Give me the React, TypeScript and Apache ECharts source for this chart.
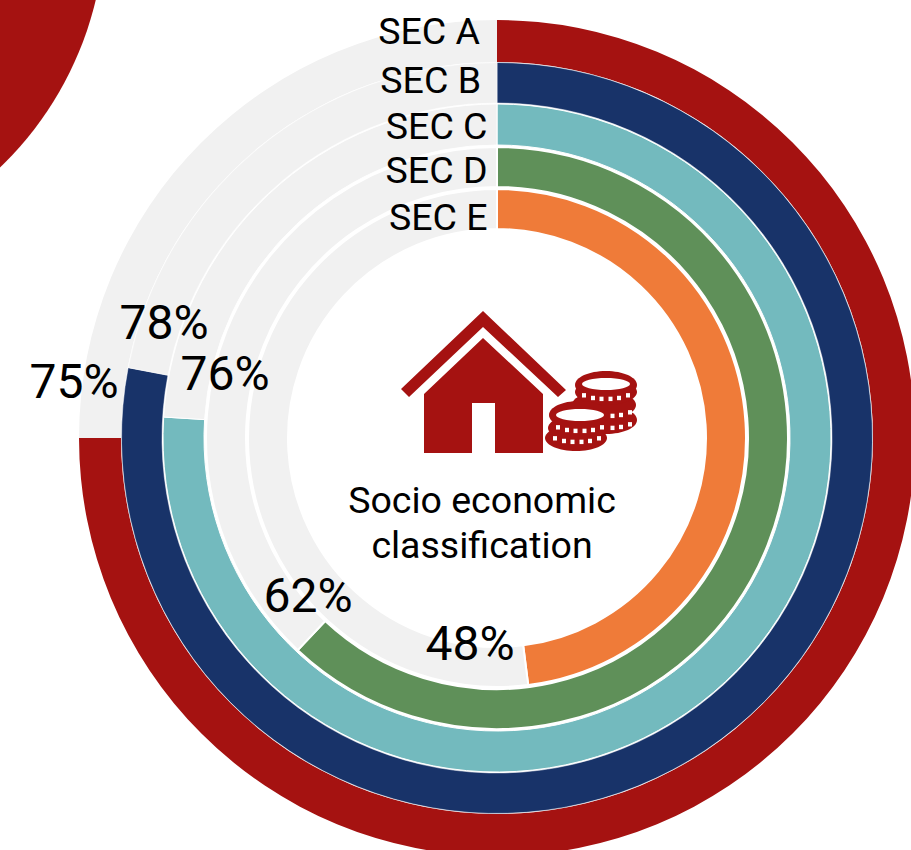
import React, { useEffect, useRef } from "react";
import * as echarts from "echarts";

const categories = ["SEC A", "SEC B", "SEC C", "SEC D", "SEC E"];
const shares = [75, 78, 76, 62, 48];
const colors = ["#A51211", "#183369", "#73BABE", "#5F9059", "#EF7B39"];
const centerLines = ["Socio economic", "classification"];

const CX = 497;
const CY = 438;
const radii = [[376, 418], [335, 375.5], [293, 334], [251, 291], [209, 249]];
const borders = [0, 0.5, 1, 2, 2];
const catPos = [[480, 31], [481, 80], [487.5, 126], [487.5, 170], [487.5, 217]];
const pctPos = [[74, 381], [164, 322], [225, 373], [308, 595], [470, 643]];

const RED = "#A51211";
const txt = (text: string, x: number, y: number, size: number, align: string) => ({
  type: "text", x, y, z: 20,
  style: { text, fontFamily: "Roboto", fontSize: size, fill: "#000", align, verticalAlign: "middle" },
});
const poly = (points: number[][], fill = RED) => ({ type: "polygon", z: 20, shape: { points }, style: { fill } });
const ell = (cx: number, cy: number, rx: number, ry: number, fill: string, z = 20) => ({
  type: "ellipse", z, shape: { cx, cy, rx, ry }, style: { fill },
});
// A row of small white notches following the lower rim of a coin.
const notches = (cx: number, cy: number, rx: number, ry: number, z: number) => {
  const out: any[] = [];
  for (const dx of [-22, -13, -4.5, 4.5, 13, 22]) {
    const y = cy + ry * Math.sqrt(1 - (dx / rx) ** 2);
    out.push({
      type: "rect", z,
      shape: { x: cx + dx - 2, y: y - 2.2, width: 4, height: 4.4 },
      style: { fill: "#fff" },
    });
  }
  return out;
};

const icon = [
  poly([[483, 311], [566, 390], [558, 397], [483, 327], [409, 397], [401, 389]]),
  poly([[483, 338], [543, 394], [543, 453], [495, 453], [495, 403], [472, 403], [472, 453], [424, 453], [424, 394]]),
  // rear stack
  ell(606, 420, 31, 14, RED, 21),
  ell(604, 405, 32, 14, RED, 21),
  ell(606, 392, 31, 13, RED, 21),
  ell(606, 385, 31, 14, RED, 21),
  ...notches(606, 392, 25, 7, 22),
  ...notches(608, 409, 25, 7, 22),
  ...notches(608, 421, 25, 7, 22),
  ell(606, 384, 24, 6, "#fff", 23),
  // front stack
  ell(576, 438, 31, 13, RED, 24),
  ell(578, 428, 30, 13, RED, 24),
  ell(579, 415, 30, 14, RED, 24),
  ...notches(580, 424, 25, 7, 25),
  ...notches(577, 435, 25, 7, 25),
  ell(580, 415, 24, 6, "#fff", 25),
];

export default function App() {
  const ref = useRef<HTMLDivElement>(null);
  useEffect(() => {
    document.body.style.margin = "0";
    const chart = echarts.init(ref.current!, undefined, { renderer: "svg" });
    chart.setOption({
      animation: false,
      backgroundColor: "#fff",
      series: categories.map((name, i) => ({
        type: "pie",
        name,
        center: [CX, CY],
        radius: radii[i],
        startAngle: 90,
        clockwise: true,
        silent: true,
        label: { show: false },
        labelLine: { show: false },
        itemStyle: { borderColor: "#fff", borderWidth: borders[i] },
        data: [
          { name, value: shares[i], itemStyle: { color: colors[i] } },
          { name: "rest", value: 100 - shares[i], itemStyle: { color: "#F1F1F1" } },
        ],
      })),
      graphic: [
        { type: "circle", z: 5, shape: { cx: -237, cy: -79, r: 342 }, style: { fill: RED } },
        ...icon,
        ...categories.map((c, i) => txt(c, catPos[i][0], catPos[i][1], 37.5, "right")),
        ...shares.map((v, i) => txt(`${v}%`, pctPos[i][0], pctPos[i][1], 48, "center")),
        ...centerLines.map((l, i) => txt(l, 482, 500 + i * 45, 37.5, "center")),
      ],
    });
    return () => chart.dispose();
  }, []);
  return <div ref={ref} style={{ width: 911, height: 850 }} />;
}
